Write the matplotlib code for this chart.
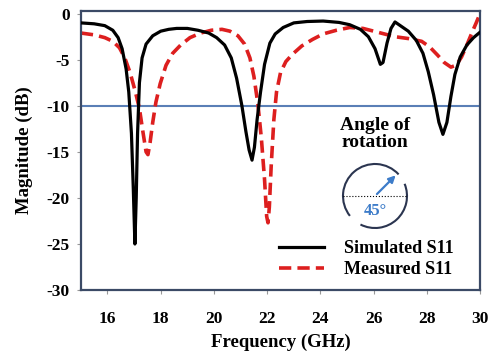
import numpy as np
import matplotlib
matplotlib.use("Agg")
import matplotlib.pyplot as plt
from matplotlib.patches import Arc, FancyArrowPatch

plt.rcParams['font.family'] = ['Liberation Serif', 'DejaVu Serif']
plt.rcParams['font.weight'] = 'bold'

# simulated S11
f_sim = [15.0, 15.5, 15.9, 16.2, 16.4, 16.55, 16.7, 16.8, 16.9, 16.97, 17.03, 17.08,
         17.13, 17.2, 17.3, 17.45, 17.7, 18.0, 18.3, 18.6, 19.0, 19.4, 19.8, 20.1,
         20.4, 20.65, 20.85, 21.05, 21.2, 21.32, 21.43, 21.52, 21.62, 21.75, 21.9, 22.1,
         22.3, 22.6, 23.0, 23.5, 24.1, 24.7, 25.1, 25.5, 25.8, 26.05, 26.25, 26.35,
         26.5, 26.65, 26.8, 27.0, 27.3, 27.6, 27.85, 28.05, 28.25, 28.45, 28.6, 28.75,
         28.9, 29.05, 29.25, 29.5, 29.75, 30.0]
s_sim = [-1.0, -1.1, -1.3, -1.8, -2.6, -3.8, -6.0, -8.5, -13.0, -19.0, -25.0, -20.0,
         -13.0, -7.5, -4.8, -3.3, -2.4, -1.9, -1.7, -1.6, -1.6, -1.8, -2.1, -2.6,
         -3.4, -4.8, -7.0, -10.0, -12.8, -14.8, -15.9, -14.5, -11.5, -8.5, -5.5, -3.2,
         -2.2, -1.5, -1.0, -0.85, -0.8, -0.95, -1.2, -1.7, -2.5, -3.8, -5.5, -5.3,
         -3.2, -1.6, -0.9, -1.3, -1.9, -2.9, -4.3, -6.3, -8.8, -11.8, -13.1, -11.8,
         -9.0, -6.6, -4.7, -3.4, -2.6, -2.0]

# measured S11
f_meas = [15.0, 15.5, 15.9, 16.2, 16.45, 16.65, 16.85, 17.05, 17.2, 17.33, 17.45, 17.52,
          17.6, 17.7, 17.82, 17.98, 18.2, 18.45, 18.75, 19.1, 19.5, 19.9, 20.3, 20.6,
          20.9, 21.15, 21.35, 21.5, 21.65, 21.78, 21.9, 21.98, 22.03, 22.08, 22.15, 22.25,
          22.35, 22.5, 22.7, 22.95, 23.3, 23.7, 24.1, 24.6, 25.1, 25.6, 26.0, 26.4,
          26.8, 27.3, 27.8, 28.1, 28.4, 28.65, 28.9, 29.1, 29.3, 29.5, 29.7, 29.85, 29.95]
s_meas = [-2.1, -2.3, -2.6, -3.0, -3.7, -4.8, -6.4, -8.5, -10.3, -12.8, -15.0, -15.3,
          -14.0, -11.8, -9.6, -7.6, -5.6, -4.3, -3.4, -2.6, -2.1, -1.8, -1.7, -1.9,
          -2.4, -3.3, -4.8, -6.8, -9.8, -13.5, -18.0, -22.0, -22.7, -21.0, -16.5, -11.5,
          -8.5, -6.4, -5.2, -4.4, -3.5, -2.8, -2.2, -1.8, -1.5, -1.6, -1.9, -2.2,
          -2.5, -2.7, -3.0, -3.6, -4.5, -5.3, -5.8, -5.6, -4.7, -3.4, -2.0, -1.0, -0.3]

xticks = [16, 18, 20, 22, 24, 26, 28, 30]
yticks = [0, -5, -10, -15, -20, -25, -30]

fig = plt.figure(figsize=(4.93, 3.52), dpi=100)
ax = fig.add_axes([0.164, 0.176, 0.810, 0.793])

ax.axhline(-10, color='#5a7fb6', lw=1.5, zorder=1)
ax.plot(f_sim, s_sim, color='black', lw=2.3, label='Simulated S11', zorder=3)
ax.plot(f_meas, s_meas, color='#dd1f1f', lw=2.6, ls=(0, (3.4, 1.7)),
        label='Measured S11', zorder=2)

ax.set_xlim(15, 30)
ax.set_ylim(-30, 0.3)
ax.set_xticks(xticks)
ax.set_yticks(yticks)
ax.set_yticklabels([str(t) for t in yticks])
ax.tick_params(labelsize=12.5, direction='out', length=3, color='#999999')
ax.tick_params(axis='x', pad=12)
ax.tick_params(axis='y', pad=5)
for lab in ax.get_xticklabels() + ax.get_yticklabels():
    lab.set_fontweight('bold')
for sp in ax.spines.values():
    sp.set_color('#3b4a66')
    sp.set_linewidth(1.6)

ax.set_xlabel('Frequency (GHz)', fontsize=13.5, fontweight='bold', labelpad=5)
ax.set_ylabel('Magnitude (dB)', fontsize=13.5, fontweight='bold', labelpad=10)

leg = ax.legend(loc='lower right', bbox_to_anchor=(0.975, -0.015), frameon=False,
                prop={'size': 13, 'weight': 'bold'}, handlelength=2.5,
                handletextpad=1.1, labelspacing=0.2)

# angle of rotation inset
fig.text(375 / 493, 1 - 134 / 352, 'Angle of\nrotation', ha='center', va='center',
         fontsize=14, fontweight='bold', linespacing=1.05)
cx, cy = 375 / 493, 1 - 196 / 352
w, h = 64 / 493, 64 / 352
for t1, t2 in [(52, 228), (250, 390)]:
    fig.add_artist(Arc((cx, cy), w, h, theta1=t1, theta2=t2, transform=fig.transFigure,
                       color='#2b3550', lw=1.5))
fig.add_artist(plt.Line2D([cx - w / 2, cx + w / 2], [cy, cy], transform=fig.transFigure,
                          color='black', lw=0.8, ls=':'))
ang = np.deg2rad(45)
fig.add_artist(FancyArrowPatch((cx, cy), (cx + 0.5 * w * np.cos(ang), cy + 0.5 * h * np.sin(ang)),
                               transform=fig.transFigure, arrowstyle='-|>', mutation_scale=10,
                               color='#3d7cc9', lw=1.6))
fig.text(cx, 1 - 211 / 352, '45°', ha='center', va='center', fontsize=12,
         fontweight='bold', color='#3d7cc9')

fig.savefig('out.png', dpi=100)
